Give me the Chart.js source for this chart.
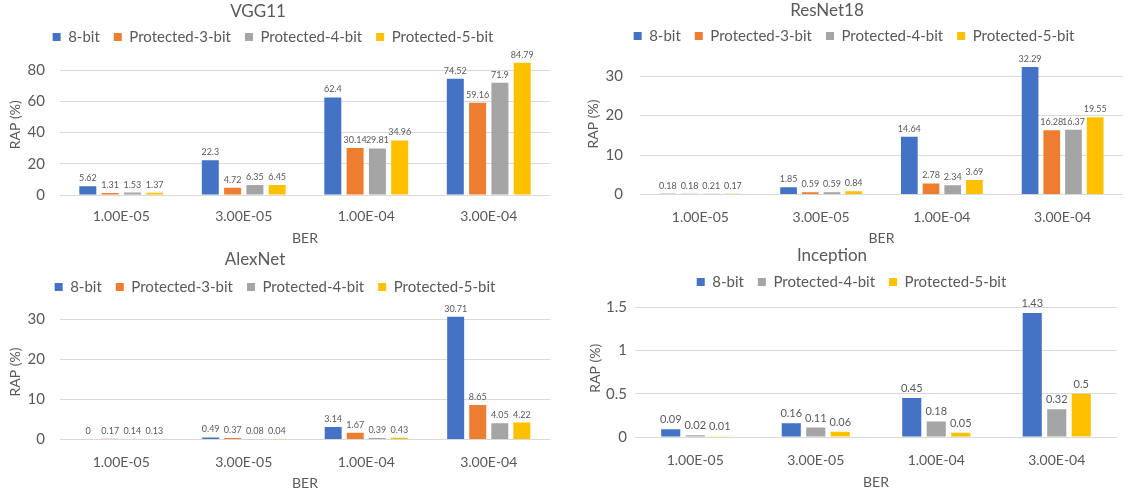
<!DOCTYPE html>
<html>
<head>
<meta charset="utf-8">
<script src="https://cdn.jsdelivr.net/npm/chart.js@4.4.1/dist/chart.umd.min.js"></script>
<style>
  html, body { margin: 0; padding: 0; background: #ffffff; }
  body { position: relative; width: 1134px; height: 495px; overflow: hidden; }
  canvas { position: absolute; }
</style>
</head>
<body>
<canvas id="vgg"></canvas>
<canvas id="resnet"></canvas>
<canvas id="alexnet"></canvas>
<canvas id="inception"></canvas>
<script>
// ---- data ----
const categories = ['1.00E-05', '3.00E-05', '1.00E-04', '3.00E-04'];

const vgg8bit = [5.62, 22.3, 62.4, 74.52];
const vggProt3 = [1.31, 4.72, 30.14, 59.16];
const vggProt4 = [1.53, 6.35, 29.81, 71.9];
const vggProt5 = [1.37, 6.45, 34.96, 84.79];
const vggTicks = [0, 20, 40, 60, 80];

const resnet8bit = [0.18, 1.85, 14.64, 32.29];
const resnetProt3 = [0.18, 0.59, 2.78, 16.28];
const resnetProt4 = [0.21, 0.59, 2.34, 16.37];
const resnetProt5 = [0.17, 0.84, 3.69, 19.55];
const resnetTicks = [0, 10, 20, 30];

const alexnet8bit = [0, 0.49, 3.14, 30.71];
const alexnetProt3 = [0.17, 0.37, 1.67, 8.65];
const alexnetProt4 = [0.14, 0.08, 0.39, 4.05];
const alexnetProt5 = [0.13, 0.04, 0.43, 4.22];
const alexnetTicks = [0, 10, 20, 30];

const inception8bit = [0.09, 0.16, 0.45, 1.43];
const inceptionProt4 = [0.02, 0.11, 0.18, 0.32];
const inceptionProt5 = [0.01, 0.06, 0.05, 0.5];
const inceptionTicks = [0, 0.5, 1, 1.5];

const BLUE = '#4472C4', ORANGE = '#ED7D31', GRAY = '#A5A5A5', GOLD = '#FFC000';
const TEXT = '#595959';
const FONT = 'Lato';

// ---- plugins ----
// Panel heading drawn at a fixed spot above the legend row.
const panelTitle = {
  id: 'panelTitle',
  afterDraw(chart, args, opts) {
    const ctx = chart.ctx;
    ctx.save();
    ctx.font = `${opts.size}px ${FONT}`;
    ctx.fillStyle = TEXT;
    ctx.textAlign = 'center';
    ctx.textBaseline = 'middle';
    ctx.fillText(opts.text, opts.x, opts.y);
    ctx.restore();
  }
};

// Value printed above every bar.
const valueLabels = {
  id: 'valueLabels',
  afterDatasetsDraw(chart, args, opts) {
    const ctx = chart.ctx;
    ctx.save();
    ctx.font = `${opts.size}px ${FONT}`;
    ctx.fillStyle = opts.color;
    ctx.textAlign = 'center';
    ctx.textBaseline = 'middle';
    chart.data.datasets.forEach((ds, i) => {
      chart.getDatasetMeta(i).data.forEach((bar, j) => {
        ctx.fillText(String(ds.data[j]), bar.x, bar.y - opts.gap);
      });
    });
    ctx.restore();
  }
};

function buildPanel(p) {
  const canvas = document.getElementById(p.id);
  canvas.width = p.w;
  canvas.height = p.h;
  canvas.style.left = p.left + 'px';
  canvas.style.top = p.top + 'px';

  const datasets = p.series.map(s => ({
    label: s.label,
    data: s.data,
    backgroundColor: s.color,
    borderWidth: 0,
    categoryPercentage: p.catPct,
    barPercentage: p.barPct
  }));

  return new Chart(canvas, {
    type: 'bar',
    data: { labels: categories, datasets },
    plugins: [panelTitle, valueLabels],
    options: {
      responsive: false,
      animation: false,
      devicePixelRatio: 1,
      layout: { padding: { top: p.padTop, right: 0, bottom: p.padBottom, left: 0 } },
      plugins: {
        title: { display: false },
        tooltip: { enabled: false },
        legend: {
          position: 'top',
          labels: {
            font: { family: FONT, size: 15 },
            color: TEXT,
            boxWidth: 8,
            boxHeight: 8,
            padding: 14
          }
        },
        panelTitle: { text: p.title, x: p.titleX, y: p.titleY, size: 17 },
        valueLabels: { size: p.labelSize, gap: p.labelGap, color: TEXT }
      },
      scales: {
        x: {
          grid: { display: false, drawTicks: false },
          border: { display: false },
          ticks: { font: { family: FONT, size: 14 }, color: TEXT, padding: p.xTickPad },
          title: {
            display: true, text: 'BER', color: TEXT,
            font: { family: FONT, size: 14 }, padding: { top: 0, bottom: 0 }
          },
          afterFit(scale) { scale.height = p.xHeight; }
        },
        y: {
          min: 0,
          max: p.max,
          grid: { color: '#D9D9D9', lineWidth: 1, drawTicks: false },
          border: { display: false },
          ticks: {
            font: { family: FONT, size: 15 }, color: TEXT, padding: p.yTickPad,
            callback: v => String(v)
          },
          afterBuildTicks(scale) { scale.ticks = p.ticks.map(v => ({ value: v })); },
          title: {
            display: true, text: 'RAP (%)', color: TEXT,
            font: { family: FONT, size: 14, lineHeight: 0.2 },
            padding: { top: p.yTitleOffset - 1.4, bottom: 0 }
          },
          afterFit(scale) { scale.width = p.yWidth; }
        }
      }
    }
  });
}

const fourSeries = (a, b, c, d) => [
  { label: '8-bit', data: a, color: BLUE },
  { label: 'Protected-3-bit', data: b, color: ORANGE },
  { label: 'Protected-4-bit', data: c, color: GRAY },
  { label: 'Protected-5-bit', data: d, color: GOLD }
];

function drawAll() {
  buildPanel({
    id: 'vgg', left: -4, top: 0, w: 554, h: 248,
    title: 'VGG11', titleX: 262, titleY: 12,
    series: fourSeries(vgg8bit, vggProt3, vggProt4, vggProt5),
    ticks: vggTicks, max: 90,
    padTop: 15.5, padBottom: 1.6, xHeight: 51.4, xTickPad: 13.3,
    yWidth: 64, yTickPad: 15, yTitleOffset: 19,
    catPct: 0.728, barPct: 0.762, labelSize: 9, labelGap: 8
  });
  buildPanel({
    id: 'resnet', left: 585, top: 0, w: 538, h: 248,
    title: 'ResNet18', titleX: 242, titleY: 11,
    series: fourSeries(resnet8bit, resnetProt3, resnetProt4, resnetProt5),
    ticks: resnetTicks, max: 35.7,
    padTop: 14.5, padBottom: 1.6, xHeight: 51.9, xTickPad: 14.1,
    yWidth: 55, yTickPad: 17, yTitleOffset: 8,
    catPct: 0.719, barPct: 0.77, labelSize: 9, labelGap: 8
  });
  buildPanel({
    id: 'alexnet', left: 0, top: 248, w: 550, h: 247,
    title: 'AlexNet', titleX: 255, titleY: 12,
    series: fourSeries(alexnet8bit, alexnetProt3, alexnetProt4, alexnetProt5),
    ticks: alexnetTicks, max: 33.75,
    padTop: 17.5, padBottom: 3.6, xHeight: 51.9, xTickPad: 14.1,
    yWidth: 60, yTickPad: 15, yTitleOffset: 15,
    catPct: 0.72, barPct: 0.77, labelSize: 9, labelGap: 8
  });
  buildPanel({
    id: 'inception', left: 586, top: 248, w: 531, h: 247,
    title: 'Inception', titleX: 246, titleY: 8,
    series: [
      { label: '8-bit', data: inception8bit, color: BLUE },
      { label: 'Protected-4-bit', data: inceptionProt4, color: GRAY },
      { label: 'Protected-5-bit', data: inceptionProt5, color: GOLD }
    ],
    ticks: inceptionTicks, max: 1.587,
    padTop: 12.5, padBottom: 4.6, xHeight: 53.4, xTickPad: 14.6,
    yWidth: 49, yTickPad: 8, yTitleOffset: 9,
    catPct: 0.61, barPct: 0.78, labelSize: 11, labelGap: 9.5
  });
}

const fontReady = document.fonts && document.fonts.load
  ? Promise.all([document.fonts.load(`15px ${FONT}`), document.fonts.load(`9px ${FONT}`)]).catch(() => {})
  : Promise.resolve();
fontReady.then(drawAll);
</script>
</body>
</html>
